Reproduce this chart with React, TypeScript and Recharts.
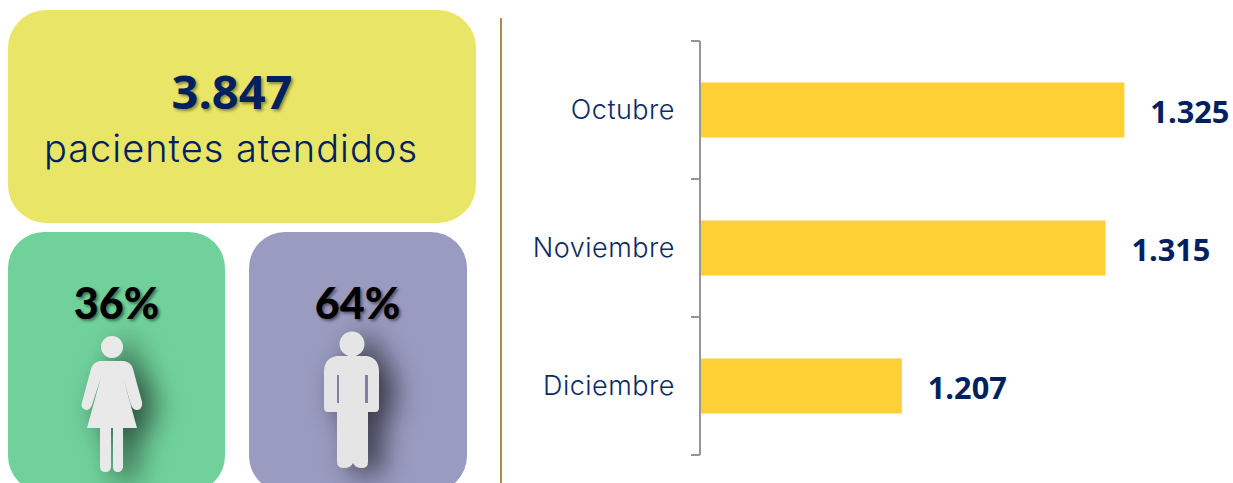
import React from 'react';
import { BarChart, Bar, XAxis, YAxis, LabelList } from 'recharts';

const months = ['Octubre', 'Noviembre', 'Diciembre'];
const patients = [1325, 1315, 1207];
const womenShare = 36;
const menShare = 64;

const rows = months.map((month, i) => ({ month, patients: patients[i] }));
const total = patients.reduce((a, b) => a + b, 0);

const NAVY = '#002060';
const BAND = 138;
const fmt = (v: number) => String(v).replace(/\B(?=(\d{3})+$)/g, '.');

const MonthTick = ({ y, payload, index }: any) => {
  const axisX = 700;
  return (
    <g>
      <text
        x={675}
        y={y + 9}
        textAnchor="end"
        fontFamily="Inter"
        fontWeight={300}
        fontSize={27}
        letterSpacing={0.5}
        fill="#0F2A63"
      >
        {payload.value}
      </text>
      <line x1={axisX - 9} x2={axisX} y1={y - BAND / 2} y2={y - BAND / 2} stroke="#969696" strokeWidth={2} />
      {index === months.length - 1 && (
        <line x1={axisX - 9} x2={axisX} y1={y + BAND / 2} y2={y + BAND / 2} stroke="#969696" strokeWidth={2} />
      )}
    </g>
  );
};

const ValueLabel = ({ x, y, width, height, value }: any) => (
  <text
    x={x + width + 26}
    y={y + height / 2 + 13}
    fontFamily="Open Sans"
    fontWeight={700}
    fontSize={30.7}
    fill={NAVY}
  >
    {fmt(value)}
  </text>
);

const card = (left: number, top: number, w: number, h: number, bg: string, radius: number): React.CSSProperties => ({
  position: 'absolute',
  left,
  top,
  width: w,
  height: h,
  background: bg,
  borderRadius: radius,
});

const pct = (left: number): React.CSSProperties => ({
  position: 'absolute',
  left,
  top: 276,
  width: 217,
  textAlign: 'center',
  fontFamily: 'Lato',
  fontWeight: 900,
  fontSize: 43,
  lineHeight: '54px',
  color: '#000',
  textShadow: '2px 2px 3px rgba(0,0,0,0.45)',
});

const Woman = () => (
  <svg
    width={1233}
    height={483}
    style={{ position: 'absolute', left: 0, top: 0, filter: 'drop-shadow(14px 8px 14px rgba(0,0,0,0.6))' }}
  >
    <g fill="#E9E9E9">
      <circle cx={112} cy={347} r={11} />
      <path d="M100 361 H124 Q131 362 133 369 L142 402 Q143 409 137 410 Q133 410 131 405 L123 377 L137 428 H123 V467 Q122 472 118 472 Q113 472 113 467 V428 H111 V467 Q110 472 106 472 Q100 472 100 467 V428 H87 L101 377 L92 405 Q90 410 86 410 Q80 408 82 402 L91 369 Q93 362 100 361 Z" />
    </g>
  </svg>
);

const Man = () => (
  <svg
    width={1233}
    height={483}
    style={{ position: 'absolute', left: 0, top: 0, filter: 'drop-shadow(14px 6px 14px rgba(0,0,0,0.65))' }}
  >
    <g fill="#E4E5E4">
      <circle cx={352} cy={344} r={12.5} />
      <path d="M337 356 H367 Q379 358 379 372 V408 Q379 412 375 412 H368 V462 Q368 468 362 468 Q355 468 353 463 Q351 468 344 468 Q337 468 337 462 V412 H328 Q324 412 324 408 V372 Q324 358 337 356 Z" />
    </g>
    <path d="M337 375 H339 V403 H337 Z M365 375 H368 V403 H365 Z" fill="#7F80A5" />
  </svg>
);

export default function App() {
  return (
    <div style={{ position: 'fixed', left: 0, top: 0, width: 1233, height: 483, overflow: 'hidden', background: '#fff' }}>
      <div style={card(8, 10, 468, 213, '#E9E566', 38)} />
      <div
        style={{
          position: 'absolute',
          left: 8,
          top: 63,
          width: 448,
          textAlign: 'center',
          fontFamily: 'Open Sans',
          fontWeight: 700,
          fontSize: 47,
          lineHeight: '56px',
          color: NAVY,
          textShadow: '2px 2px 3px rgba(0,0,0,0.4)',
        }}
      >
        {fmt(total)}
      </div>
      <div
        style={{
          position: 'absolute',
          left: 8,
          top: 124,
          width: 446,
          textAlign: 'center',
          fontFamily: 'Inter',
          fontWeight: 300,
          fontSize: 38,
          letterSpacing: 1,
          lineHeight: '48px',
          color: NAVY,
        }}
      >
        pacientes atendidos
      </div>

      <div style={card(8, 232, 217, 260, '#70D19B', 36)} />
      <div style={card(249, 232, 218, 260, '#9A9BC1', 36)} />
      <div style={pct(8)}>{womenShare}%</div>
      <div style={pct(249)}>{menShare}%</div>
      <Woman />
      <Man />

      <div style={{ position: 'absolute', left: 499.5, top: 18, width: 2, height: 465, background: '#A89040' }} />

      <div style={{ position: 'absolute', left: 0, top: 0 }}>
        <BarChart
          width={1233}
          height={483}
          data={rows}
          layout="vertical"
          barCategoryGap="30%"
          margin={{ top: 41, right: 61.5, bottom: 28, left: 500 }}
          style={{ overflow: 'visible' }}
        >
          <XAxis type="number" domain={[1100, 1350]} hide />
          <YAxis
            type="category"
            dataKey="month"
            width={200}
            axisLine={{ stroke: '#969696', strokeWidth: 2 }}
            tickLine={false}
            tick={<MonthTick />}
            interval={0}
          />
          <Bar dataKey="patients" fill="#FFD035" isAnimationActive={false}>
            <LabelList dataKey="patients" content={<ValueLabel />} />
          </Bar>
        </BarChart>
      </div>
    </div>
  );
}
